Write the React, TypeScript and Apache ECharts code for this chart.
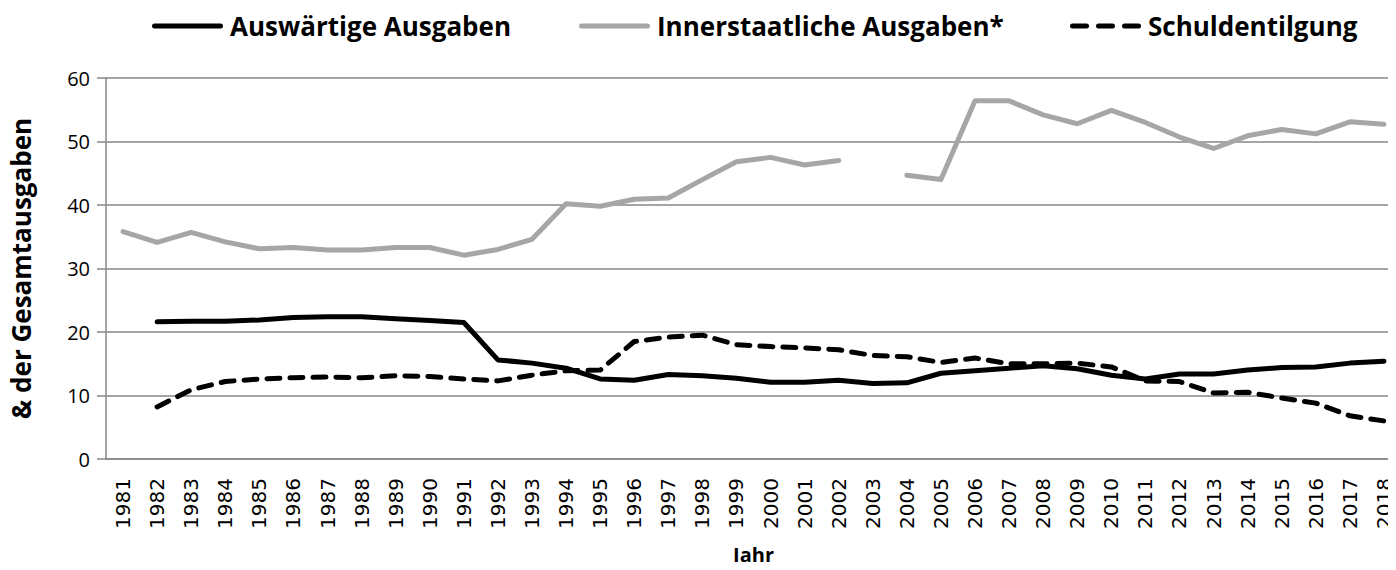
import React, { useEffect, useRef } from "react";
import * as echarts from "echarts";

const years = [
  "1981","1982","1983","1984","1985","1986","1987","1988","1989","1990",
  "1991","1992","1993","1994","1995","1996","1997","1998","1999","2000",
  "2001","2002","2003","2004","2005","2006","2007","2008","2009","2010",
  "2011","2012","2013","2014","2015","2016","2017","2018",
];

const auswaertig = [
  null, 21.6, 21.7, 21.7, 21.9, 22.3, 22.4, 22.4, 22.1, 21.8,
  21.5, 15.6, 15.1, 14.3, 12.6, 12.4, 13.3, 13.1, 12.7, 12.1,
  12.1, 12.4, 11.9, 12.0, 13.5, 13.9, 14.3, 14.7, 14.2, 13.2,
  12.6, 13.4, 13.4, 14.0, 14.4, 14.5, 15.1, 15.4,
];

const innerstaatlich = [
  35.8, 34.1, 35.7, 34.2, 33.1, 33.3, 32.9, 32.9, 33.3, 33.3,
  32.1, 33.0, 34.6, 40.2, 39.8, 40.9, 41.1, 44.0, 46.8, 47.5,
  46.3, 47.0, null, 44.7, 44.0, 56.4, 56.4, 54.2, 52.8, 54.9,
  53.0, 50.7, 48.9, 50.9, 51.9, 51.2, 53.1, 52.7,
];

const schuldentilgung = [
  null, 8.2, 10.9, 12.2, 12.6, 12.8, 12.9, 12.8, 13.1, 13.0,
  12.6, 12.3, 13.2, 13.9, 14.0, 18.5, 19.2, 19.5, 18.0, 17.7,
  17.5, 17.2, 16.3, 16.1, 15.2, 15.9, 15.0, 15.0, 15.1, 14.5,
  12.3, 12.2, 10.4, 10.5, 9.6, 8.8, 6.8, 6.0,
];

const yTicks = [0, 10, 20, 30, 40, 50, 60];

const seriesNames = ["Auswärtige Ausgaben", "Innerstaatliche Ausgaben*", "Schuldentilgung"];

const solidIcon = "path://M2.5,0 H68.5 A2.5,2.5 0 0 1 68.5,5 H2.5 A2.5,2.5 0 0 1 2.5,0 Z";
const dashIcon =
  "path://M2.5,0 H16.5 A2.5,2.5 0 0 1 16.5,5 H2.5 A2.5,2.5 0 0 1 2.5,0 Z " +
  "M28.5,0 H42.5 A2.5,2.5 0 0 1 42.5,5 H28.5 A2.5,2.5 0 0 1 28.5,0 Z " +
  "M54.5,0 H68.5 A2.5,2.5 0 0 1 68.5,5 H54.5 A2.5,2.5 0 0 1 54.5,0 Z";

export default function App() {
  const ref = useRef<HTMLDivElement>(null);
  useEffect(() => {
    if (!ref.current) return;
    const chart = echarts.init(ref.current, null, { renderer: "svg" });
    const gridColor = "#878787";
    const legendText = {
      fontFamily: "Open Sans",
      fontWeight: "bold" as const,
      fontSize: 26,
      color: "#000",
      padding: [0, 0, 0, 2],
    };
    const legendBase = {
      top: 8,
      itemWidth: 71,
      itemHeight: 5,
      itemGap: 0,
      textStyle: legendText,
    };
    chart.setOption({
      animation: false,
      backgroundColor: "#fff",
      legend: [
        { ...legendBase, left: 147, data: [{ name: seriesNames[0], icon: solidIcon }] },
        { ...legendBase, left: 574, data: [{ name: seriesNames[1], icon: solidIcon }] },
        { ...legendBase, left: 1065, data: [{ name: seriesNames[2], icon: dashIcon }] },
      ],
      grid: {
        left: 106,
        right: -5,
        top: 78,
        bottom: 111,
        containLabel: false,
        outerBoundsMode: "none",
      },
      xAxis: {
        type: "category",
        data: years,
        boundaryGap: true,
        name: "Jahr",
        nameLocation: "middle",
        nameGap: 84,
        nameTextStyle: {
          fontFamily: "Open Sans",
          fontWeight: "bold",
          fontSize: 20,
          color: "#000",
          verticalAlign: "top",
          lineHeight: 22,
        },
        axisLine: { lineStyle: { color: gridColor, width: 1.5 } },
        axisTick: { show: false },
        axisLabel: {
          rotate: 90,
          interval: 0,
          margin: 19,
          fontFamily: "DejaVu Sans",
          fontSize: 20,
          color: "#000",
        },
      },
      yAxis: {
        type: "value",
        min: yTicks[0],
        max: yTicks[yTicks.length - 1],
        interval: 10,
        name: "& der Gesamtausgaben",
        nameLocation: "middle",
        nameGap: 72,
        nameTextStyle: { fontFamily: "Open Sans", fontWeight: "bold", fontSize: 26, color: "#000" },
        axisLine: { show: true, lineStyle: { color: gridColor, width: 1.5 } },
        axisTick: { show: true, length: 9, lineStyle: { color: gridColor, width: 1.5 } },
        splitLine: { lineStyle: { color: gridColor, width: 1.5 } },
        axisLabel: {
          margin: 16,
          fontFamily: "Open Sans",
          fontSize: 20,
          color: "#000",
        },
      },
      series: [
        {
          name: seriesNames[0],
          type: "line",
          data: auswaertig,
          symbol: "none",
          lineStyle: { color: "#000", width: 5, cap: "round", join: "round" },
          itemStyle: { color: "#000" },
        },
        {
          name: seriesNames[1],
          type: "line",
          data: innerstaatlich,
          symbol: "none",
          connectNulls: false,
          lineStyle: { color: "#a6a6a6", width: 5, cap: "round", join: "round" },
          itemStyle: { color: "#a6a6a6" },
        },
        {
          name: seriesNames[2],
          type: "line",
          data: schuldentilgung,
          symbol: "none",
          lineStyle: { color: "#000", width: 5, type: [13, 10], cap: "round", join: "round" },
          itemStyle: { color: "#000" },
        },
      ],
    });
    return () => chart.dispose();
  }, []);
  return <div ref={ref} style={{ width: 1396, height: 570, margin: -8 }} />;
}
